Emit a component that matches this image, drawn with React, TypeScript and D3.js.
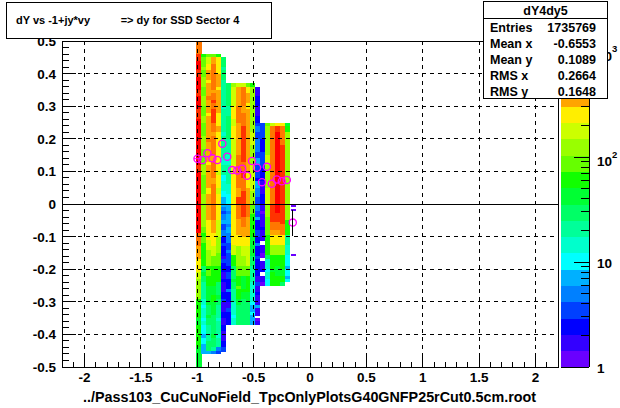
import React from "react";
import * as d3 from "d3";

const W = 620, H = 408;
const xTicks = [-2, -1.5, -1, -0.5, 0, 0.5, 1, 1.5, 2];
const yTicks = [-0.5, -0.4, -0.3, -0.2, -0.1, 0, 0.1, 0.2, 0.3, 0.4, 0.5];
const zTicks = [1, 10, 100, 1000];
const palette = ["#6a00ff","#3300ff","#0000ff","#0040ff","#0080ff","#00b0ff","#00ffff","#00ffcc","#00ff99","#00ff66","#00ff33","#11ff00","#66ff00","#99ff00","#ccff00","#ffee00","#ffa500","#ff7700","#ff3300","#ff0000"];
const statsRows = [["Entries","1735769"],["Mean x","-0.6553"],["Mean y","0.1089"],["RMS x","0.2664"],["RMS y","0.1648"]];
const profileY = [0.139,0.135,0.156,0.14,0.135,0.185,0.145,0.104,0.103,0.108,0.087,0.132,0.111,0.067,0.114,0.062,0.075,0.07,0.074,-0.057];

// One entry per x bin starting at -1.012: [upper y in 0.01 units, colour level; -1 = empty]
const levelCounts = [1.2,1.7,2.5,3.5,5,7,10,15,22,31,45,65,93,135,190,280,400,570,820,1200];
const columns: number[][][] = [
  [[50,17],[46,18],[44,19],[41,18],[39,19],[35,18],[33,19],[29,18],[26,19],[12,18],[10,19],[-9,17],[-13,16],[-17,15],[-21,14],[-23,13],[-29,11],[-35,10],[-37,11],[-44,10],[-50,-1]],
  [[46,11],[45,12],[42,13],[41,12],[39,13],[36,12],[33,13],[30,12],[27,13],[25,12],[21,13],[17,12],[12,13],[9,12],[3,13],[-7,12],[-9,11],[-10,12],[-12,11],[-19,9],[-21,10],[-22,9],[-24,8],[-29,7],[-31,6],[-32,7],[-35,6],[-36,7],[-37,6],[-40,5],[-41,6],[-43,5],[-46,-1]],
  [[46,12],[45,14],[43,15],[41,16],[38,15],[37,16],[33,17],[32,16],[28,15],[27,16],[20,17],[19,16],[13,15],[12,16],[5,15],[3,16],[-1,16],[-5,15],[-11,14],[-14,13],[-19,11],[-20,12],[-22,11],[-25,10],[-31,9],[-34,10],[-35,9],[-37,8],[-42,9],[-45,5],[-46,-1]],
  [[46,12],[45,16],[43,17],[35,16],[34,17],[32,18],[31,17],[29,18],[25,17],[22,16],[21,17],[15,16],[13,17],[8,16],[6,17],[-5,16],[-9,15],[-13,14],[-16,12],[-19,11],[-25,10],[-28,11],[-30,10],[-34,9],[-40,10],[-41,9],[-44,8],[-45,4],[-46,-1]],
  [[46,11],[45,15],[40,16],[36,15],[35,16],[28,15],[24,16],[22,15],[15,15],[10,14],[9,15],[5,14],[3,15],[-5,14],[-10,13],[-15,12],[-19,11],[-24,9],[-28,10],[-29,9],[-31,8],[-35,7],[-36,8],[-40,7],[-41,8],[-44,4],[-45,3],[-46,-1]],
  [[45,9],[42,8],[41,9],[38,8],[30,7],[29,8],[22,7],[21,8],[14,7],[12,8],[9,6],[7,7],[4,6],[2,5],[-1,4],[-2,3],[-3,4],[-5,5],[-6,3],[-8,4],[-10,2],[-12,3],[-13,2],[-16,1],[-17,3],[-18,2],[-21,1],[-23,2],[-24,1],[-27,2],[-29,3],[-30,1],[-33,2],[-35,1],[-37,2],[-39,1],[-42,2],[-44,3],[-45.5,-1]],
  [[37,9],[30,8],[27,9],[20,8],[15,7],[12,8],[6,7],[3,6],[0,5],[-2,4],[-3,5],[-6,4],[-7,5],[-9,4],[-12,3],[-14,4],[-15,3],[-19,2],[-21,3],[-23,2],[-26,4],[-27,2],[-30,1],[-32,3],[-33,2],[-37,-1]],
  [[37,13],[36,14],[30,15],[26,14],[24,15],[20,14],[12,15],[-12.6,14],[-15.6,11],[-19,9],[-23,10],[-24,9],[-26,8],[-30,7],[-34,6],[-35,7],[-37,-1]],
  [[37,14],[36,16],[30,17],[25,16],[15,17],[5,16],[2,18],[0,17],[-4.5,16],[-9.5,15],[-13,13],[-19,12],[-22,11],[-25,12],[-26,11],[-29,10],[-31,9],[-37,-1]],
  [[37,14],[36,17],[30,16],[28,17],[24,18],[13,17],[10,18],[8,17],[4,18],[-4,17],[-7,16],[-10,15],[-13,14],[-16,13],[-19,12],[-22,10],[-26,11],[-27,10],[-29,9],[-37,-1]],
  [[37,12],[36,15],[34,16],[31,15],[29,16],[22,16],[10,15],[5,16],[0,17],[-4,16],[-10,15],[-13,14],[-19,12],[-22,11],[-27,10],[-30,9],[-37,-1]],
  [[37,11],[36,13],[22,14],[18,13],[12,14],[4,13],[0,12],[-3,11],[-10,10],[-16,9],[-19,8],[-24,7],[-30,6],[-31,5],[-33,6],[-34,5],[-37,-1]],
  [[36,1],[33,2],[30,1],[27,2],[25,3],[24,4],[22,3],[20,4],[16,3],[14,5],[12,3],[8,2],[7,5],[5,4],[2,3],[0,4],[-2,3],[-4,5],[-5,2],[-8,3],[-10,2],[-12,4],[-13,2],[-16,3],[-17,2],[-19,2],[-22,1],[-24,3],[-25,1],[-27,2],[-28,1],[-31,5],[-32,1],[-34.5,-1],[-35,0],[-36,1],[-37,-1]],
  [[25,3],[20,2],[16,3],[11,2],[7,1],[3,2],[0,1],[-2,0],[-3,1],[-7,2],[-8,1],[-11.5,-1],[-12.5,1],[-15,0],[-16.5,-1],[-17.5,1],[-20,2],[-21,-1],[-22,1],[-24,0],[-25,-1]],
  [[25,12],[24,13],[15,14],[12,13],[5,14],[0,13],[-4,12],[-9.5,11],[-15.6,9],[-17,7],[-20,6],[-21,7],[-23,6],[-25,-1]],
  [[25,14],[24,17],[5,17],[0,18],[-2.8,18],[-5.5,17],[-8,16],[-9.5,15],[-12.6,13],[-15.6,11],[-20,10],[-21,11],[-25,-1]],
  [[25,15],[24,18],[22,19],[-2.8,18],[-5.5,17],[-8,16],[-9.5,15],[-12.6,13],[-15.6,11],[-19,10],[-22,11],[-25,-1]],
  [[25,15],[24,17],[18,18],[-6,17],[-9.5,15],[-12.6,13],[-15.6,11],[-20,10],[-22,11],[-24,9],[-25,-1]],
  [[25,10],[24,11],[22,13],[0,13],[-5,11],[-9.5,8],[-12.6,7],[-15.6,6],[-19,5],[-20,6],[-22,5],[-23,6],[-24,-1]],
  [[-0.3,0],[-0.9,-1],[-1.5,0],[-2.1,-1],[-15.3,0],[-15.9,-1]],
];

const x = d3.scaleLinear().domain([-2.2, 2.2]).range([62, 558]);
const y = d3.scaleLinear().domain([-0.5, 0.5]).range([367, 41]);
const zMax = 1273;
const z = d3.scaleLog().domain([1, zMax]).range([367, 41]);
const colour = d3.scaleQuantize<string>().domain([0, Math.log10(zMax)]).range(palette);
const binW = 0.044, binX0 = -1.012;
const font = "'Liberation Sans', Arial, sans-serif";

function fmt(v: number) { return String(+v.toFixed(1)); }

export default function App() {
  const minorX = d3.range(-22, 23).map(i => i / 10);
  const minorY = d3.range(-25, 26).map(i => i / 50);
  const minorZ = [2,3,4,5,6,7,8,9,20,30,40,50,60,70,80,90,200,300,400,500,600,700,800,900];
  const barLevels = d3.range(20);
  const markerX = (i: number) => x(-0.998 + i * binW + (i === 19 ? 0.009 : 0));
  return (
    <svg width={W} height={H} style={{ position: "absolute", left: 0, top: 0, background: "#fff" }} fontFamily={font} fontWeight="bold">
      <g shapeRendering="crispEdges">
        {columns.map((segs, c) => segs.map((s, j) => {
          if (s[1] < 0 || j === segs.length - 1) return null;
          const top = y(s[0] / 100), bot = y(segs[j + 1][0] / 100);
          const x0 = x(binX0 + c * binW) + (c === 19 ? 1 : 0), x1 = x(binX0 + (c + 1) * binW) + (c === 19 ? 1 : 0);
          return <rect key={c + "-" + j} x={x0} y={top} width={x1 - x0 + (c === 0 && (j === 0 || j > 14) ? 1 : 0)} height={bot - top} fill={colour(Math.log10(levelCounts[s[1]]))} />;
        }))}
      </g>
      <g stroke="#000" strokeDasharray="4 4" shapeRendering="crispEdges">
        {xTicks.map(t => <line key={t} x1={x(t)} x2={x(t)} y1={41} y2={367} />)}
        {yTicks.filter(t => t !== 0 && Math.abs(t) !== 0.5).map(t => <line key={t} x1={62} x2={558} y1={y(t)} y2={y(t)} />)}
      </g>
      <line x1={62} x2={558} y1={y(0)} y2={y(0)} stroke="#000" shapeRendering="crispEdges" />
      <rect x={62} y={41} width={496} height={326} fill="none" stroke="#000" shapeRendering="crispEdges" />
      <g stroke="#000" shapeRendering="crispEdges">
        {minorX.map(t => { const major = Math.abs(t * 2 - Math.round(t * 2)) < 1e-6; return <line key={t} x1={x(t)} x2={x(t)} y1={367} y2={major ? 357 : 362} />; })}
        {minorY.map(t => { const major = Math.abs(t * 10 - Math.round(t * 10)) < 1e-6; return <line key={t} x1={62} x2={major ? 76 : 69} y1={y(t)} y2={y(t)} />; })}
      </g>
      {xTicks.map(t => <text key={t} x={x(t)} y={382} fontSize={13.5} textAnchor="middle">{fmt(t)}</text>)}
      {yTicks.map(t => <text key={t} x={56} y={y(t) + 5} fontSize={13.5} textAnchor="end">{fmt(t)}</text>)}
      <text x={83} y={402} fontSize={14.5} textLength={453} lengthAdjust="spacingAndGlyphs">../Pass103_CuCuNoField_TpcOnlyPlotsG40GNFP25rCut0.5cm.root</text>
      <g shapeRendering="crispEdges">
        {barLevels.map(l => <rect key={l} x={561} width={28} y={z(Math.pow(10, (l + 1) * Math.log10(zMax) / 20))} height={326 / 20 + 0.5} fill={palette[l]} />)}
      </g>
      <g stroke="#000" shapeRendering="crispEdges">
        <line x1={589} x2={589} y1={41} y2={367} />
        <line x1={561} x2={589} y1={367} y2={367} />
        {zTicks.map(t => <line key={t} x1={574} x2={589} y1={z(t)} y2={z(t)} />)}
        {minorZ.map(t => <line key={t} x1={581} x2={589} y1={z(t)} y2={z(t)} />)}
      </g>
      <text x={597} y={373} fontSize={13.5}>1</text>
      <text x={597} y={268} fontSize={13.5}>10</text>
      <text x={597} y={166} fontSize={13.5}>10</text>
      <text x={612} y={158} fontSize={9.5}>2</text>
      <text x={597} y={61} fontSize={13.5}>10</text>
      <text x={612} y={52} fontSize={9.5}>3</text>
      <g>
        {profileY.map((v, i) => <circle key={i} cx={markerX(i)} cy={y(v)} r={3.6} fill="none" stroke="#ff00ff" strokeWidth={1.3} />)}
        <line x1={markerX(0) - 3.5} x2={markerX(0) + 3.5} y1={y(profileY[0])} y2={y(profileY[0])} stroke="#ff00ff" strokeWidth={1} />
        <line x1={markerX(19)} x2={markerX(19)} y1={210} y2={236} stroke="#000" shapeRendering="crispEdges" />
      </g>
      <rect x={6.5} y={2.5} width={265} height={36} fill="#fff" stroke="#000" />
      <text x={16} y={24} fontSize={11} style={{ whiteSpace: "pre" }}>{"dY vs -1+jy*vy          => dy for SSD Sector 4"}</text>
      <rect x={483.5} y={1.5} width={124} height={97} fill="#fff" stroke="#000" />
      <line x1={483} x2={608} y1={18.5} y2={18.5} stroke="#000" />
      <text x={545.5} y={15} fontSize={12.5} textAnchor="middle">dY4dy5</text>
      {statsRows.map((r, i) => (
        <g key={r[0]} fontSize={12.5}>
          <text x={490} y={32 + i * 16}>{r[0]}</text>
          <text x={596} y={32 + i * 16} textAnchor="end">{r[1]}</text>
        </g>
      ))}
    </svg>
  );
}
